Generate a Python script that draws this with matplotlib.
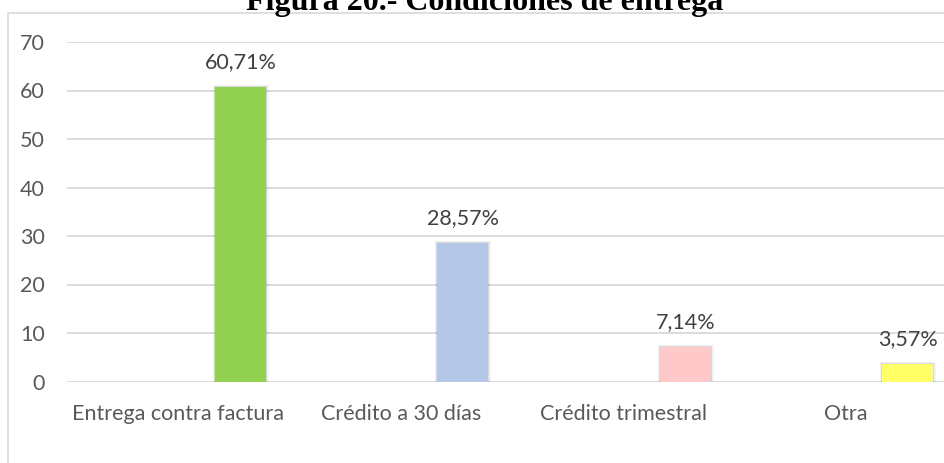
import matplotlib
matplotlib.use("Agg")
import matplotlib.pyplot as plt
import matplotlib.patheffects as pe
from matplotlib.patches import Rectangle
import numpy as np

# Datos del gráfico
categorias = ["Entrega contra factura", "Crédito a 30 días", "Crédito trimestral", "Otra"]
valores = [60.71, 28.57, 7.14, 3.57]
etiquetas = ["60,71%", "28,57%", "7,14%", "3,57%"]
colores = ["#92D050", "#B4C7E7", "#FFC9C9", "#FFFF66"]
yticks = [0, 10, 20, 30, 40, 50, 60, 70]

W, H = 944, 463
fig = plt.figure(figsize=(W / 100, H / 100), dpi=100)

# marco del gráfico (recortado a la derecha y abajo)
fig.patches.append(Rectangle((8 / W, -0.1), 1.2, 1.1 - 13 / H, transform=fig.transFigure,
                             fill=False, edgecolor="#D9D9D9", linewidth=1.2))

fig.text(485 / W, 1 - 10 / H, "Figura 20.- Condiciones de entrega", ha="center", va="baseline",
         fontsize=23, fontweight="bold", family="Liberation Serif", color="black")

ax = fig.add_axes([67 / W, 81.5 / H, 890 / W, 339.5 / H])
x = np.arange(len(categorias))
barras = ax.bar(x + 0.279, valores, width=0.229, color=colores, zorder=3)
for b in barras:
    b.set_path_effects([pe.Stroke(linewidth=3.5, foreground="#000000", alpha=0.05),
                        pe.Stroke(linewidth=1.5, foreground="#000000", alpha=0.10),
                        pe.Normal()])

for b, txt in zip(barras, etiquetas):
    ax.annotate(txt, (b.get_x() + b.get_width() / 2, b.get_height()), xytext=(0, 18),
                textcoords="offset points", ha="center", va="center",
                fontsize=15.5, family="Lato", color="#404040")

ax.set_xlim(-0.5, 3.5)
ax.set_ylim(0, 70)
ax.set_yticks(yticks)
ax.set_xticks(x)
ax.set_xticklabels(categorias)
ax.grid(axis="y", color="#D9D9D9", linewidth=1.3, zorder=0)
ax.set_axisbelow(True)
for s in ax.spines.values():
    s.set_visible(False)
ax.tick_params(axis="both", length=0, labelsize=15.5, labelcolor="#595959")
ax.tick_params(axis="y", pad=16)
ax.tick_params(axis="x", pad=16)
for lbl in ax.get_xticklabels() + ax.get_yticklabels():
    lbl.set_family("Lato")

fig.savefig("out.png", dpi=100)
